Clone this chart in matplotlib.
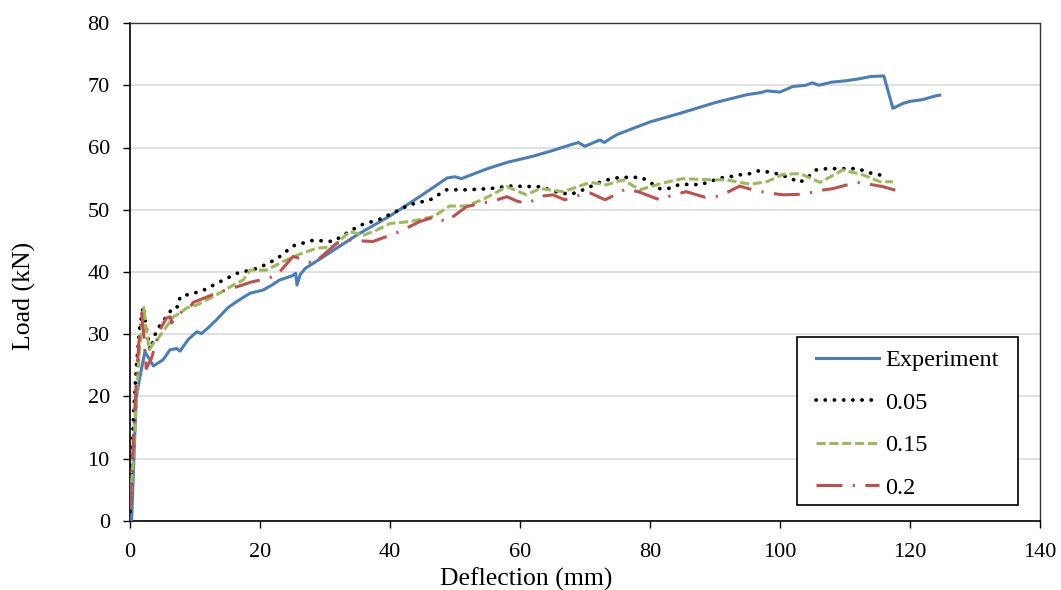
import matplotlib
matplotlib.use("Agg")
import matplotlib.pyplot as plt
from matplotlib.patches import Rectangle

plt.rcParams['font.family'] = ['Liberation Serif', 'DejaVu Serif']

# Load-deflection data (deflection in mm, load in kN)
exp_x = [0, 0.26, 0.77, 1.0, 1.54, 2.3, 3.0, 3.6, 5.1, 6.15, 7.2, 7.7, 9.0, 10.3, 11.0, 12.0,
         13.3, 15.0, 16.5, 18.5, 20.5, 22.0, 23.0, 25.0, 25.5, 25.7, 26.2, 27.0, 30.0, 35.0,
         40.0, 45.0, 48.8, 50.0, 51.0, 55.0, 58.0, 60.0, 62.0, 65.0, 68.0, 69.0, 70.0, 72.3,
         73.0, 74.0, 75.0, 80.0, 85.0, 90.0, 95.0, 97.0, 98.0, 100.0, 102.0, 104.0, 105.0,
         106.0, 108.0, 110.0, 112.0, 114.0, 116.0, 117.4, 119.0, 120.0, 122.0, 124.0, 124.6]
exp_y = [0, 0.2, 14.6, 20.0, 23.2, 27.2, 26.0, 24.9, 25.9, 27.5, 27.7, 27.3, 29.2, 30.4, 30.1, 31.0,
         32.3, 34.2, 35.3, 36.6, 37.1, 38.0, 38.7, 39.4, 39.8, 37.9, 39.6, 40.6, 42.6, 46.0,
         49.0, 52.4, 55.1, 55.3, 55.0, 56.6, 57.6, 58.1, 58.6, 59.5, 60.5, 60.8, 60.2, 61.2,
         60.8, 61.5, 62.1, 64.1, 65.6, 67.2, 68.5, 68.8, 69.1, 68.9, 69.8, 70.0, 70.4,
         70.0, 70.5, 70.7, 71.0, 71.4, 71.5, 66.3, 67.1, 67.4, 67.7, 68.3, 68.4]

d05_x = [0, 0.3, 0.6, 1.0, 1.5, 2.05, 2.5, 3.1, 3.6, 4.1, 4.9, 5.6, 6.7, 7.4, 7.7, 8.7, 9.5,
         10.8, 12.3, 13.8, 16.5, 19.7, 22.6, 25.1, 28.2, 31.3, 32.8, 35.4, 38.5, 41.5, 43.0,
         46.2, 48.7, 51.8, 55.4, 58.5, 63.1, 66.2, 67.9, 69.5, 70.8, 72.3, 73.8, 75.4, 76.9,
         78.7, 80.0, 81.5, 82.8, 84.4, 86.2, 87.7, 89.2, 90.8, 92.3, 93.8, 95.4, 96.9, 98.5,
         100.0, 101.5, 103.1, 104.4, 105.6, 107.2, 108.7, 110.3, 112.0, 113.6, 115.1, 116.7]
d05_y = [1.5, 10.0, 18.0, 25.0, 31.0, 34.5, 31.0, 27.5, 29.0, 30.7, 31.8, 32.8, 34.4, 34.4, 36.0,
         36.3, 36.6, 36.8, 37.6, 38.4, 39.8, 40.6, 42.1, 44.2, 45.1, 44.9, 45.9, 47.5, 48.5,
         50.0, 50.8, 51.6, 53.2, 53.2, 53.4, 53.8, 53.7, 52.7, 52.5, 53.1, 53.7, 54.4, 54.9,
         55.2, 55.2, 55.2, 54.4, 53.4, 53.4, 54.0, 54.1, 54.0, 54.5, 55.1, 55.3, 55.6, 55.8,
         56.3, 56.0, 55.7, 55.1, 54.4, 55.3, 56.4, 56.6, 56.6, 56.6, 56.6, 56.0, 55.6, 55.6]

d15_x = [0, 0.5, 1.0, 1.5, 2.15, 2.6, 3.0, 3.6, 4.1, 5.6, 6.7, 7.7, 8.7, 10.3, 11.8, 13.8,
         15.9, 17.4, 18.5, 21.0, 23.6, 26.2, 28.7, 31.3, 33.8, 35.9, 37.9, 40.0, 43.1, 46.7,
         49.2, 51.8, 54.4, 58.0, 61.0, 63.1, 66.7, 70.8, 73.3, 75.9, 78.5, 82.0, 85.1, 89.7,
         91.8, 95.4, 98.0, 100.5, 103.1, 106.2, 109.7, 112.8, 115.4, 117.4]
d15_y = [2.0, 10.0, 20.0, 28.0, 34.3, 30.0, 27.5, 28.5, 29.0, 31.2, 32.8, 33.4, 34.2, 34.7, 35.5,
         36.6, 37.9, 38.7, 40.3, 40.3, 41.7, 42.9, 43.8, 44.1, 46.5, 45.9, 46.7, 47.8, 48.1,
         48.9, 50.6, 50.6, 51.7, 53.7, 52.4, 53.4, 52.9, 54.4, 54.0, 54.8, 53.2, 54.3, 55.0,
         54.8, 54.8, 54.1, 54.5, 55.7, 55.8, 54.4, 56.4, 55.6, 54.5, 54.5]

d20_x = [0, 0.3, 0.6, 1.0, 1.4, 1.8, 2.2, 2.5, 3.3, 4.6, 5.6, 6.2, 6.4, 8.2, 9.5, 9.7, 13.3,
         16.4, 18.7, 21.0, 22.6, 25.1, 27.2, 28.2, 31.8, 33.8, 37.4, 39.5, 41.5, 44.6, 46.7,
         48.7, 51.8, 53.8, 55.9, 58.0, 59.5, 61.0, 63.6, 65.1, 66.9, 68.7, 70.8, 73.1, 74.1,
         76.2, 78.2, 81.5, 83.6, 85.6, 88.5, 90.8, 93.8, 96.2, 98.2, 100.5, 103.6, 106.2,
         108.2, 111.8, 113.8, 115.9, 117.9]
d20_y = [2.0, 8.0, 15.0, 23.0, 29.0, 33.4, 29.0, 24.5, 26.1, 30.7, 32.6, 32.8, 31.8, 33.9, 34.7,
         35.1, 36.6, 37.6, 38.4, 38.9, 39.5, 42.5, 41.8, 41.3, 44.6, 45.1, 44.9, 45.7, 46.5,
         48.1, 48.8, 48.1, 50.5, 51.0, 51.4, 52.1, 51.4, 51.0, 52.2, 52.4, 51.6, 52.2, 52.7,
         51.6, 52.1, 53.3, 52.9, 51.6, 52.4, 52.9, 52.0, 52.2, 53.8, 53.1, 52.7, 52.4, 52.5,
         53.1, 53.4, 54.4, 54.1, 53.7, 53.1]

x_ticks = [0, 20, 40, 60, 80, 100, 120, 140]
y_ticks = [0, 10, 20, 30, 40, 50, 60, 70, 80]

fig = plt.figure(figsize=(10.61, 5.90), dpi=100)
ax = fig.add_axes([0.1225, 0.117, 0.8575, 0.844])

lw = 2.2
ax.plot(exp_x, exp_y, color='#4A7EBB', lw=lw, solid_joinstyle='round',
        label='Experiment', zorder=3)
ax.plot(d05_x, d05_y, color='black', lw=2.7, linestyle=(0, (0.05, 2.4)),
        dash_capstyle='round', label='0.05', zorder=4)
ax.plot(d15_x, d15_y, color='#9BBB59', lw=lw, linestyle=(0, (3.0, 1.2)),
        label='0.15', zorder=5)
ax.plot(d20_x, d20_y, color='#C0504D', lw=lw, linestyle=(0, (8.5, 3.4, 0.7, 3.4)),
        label='0.2', zorder=6)

ax.set_xlim(0, 140)
ax.set_ylim(0, 80)
ax.set_xticks(x_ticks)
ax.set_yticks(y_ticks)
ax.yaxis.grid(True, color='#D9D9D9', lw=1.1)
ax.set_axisbelow(True)
for side in ('left', 'bottom'):
    ax.spines[side].set_linewidth(1.2)
    ax.spines[side].set_color('black')
for side in ('top', 'right'):
    ax.spines[side].set_linewidth(1.0)
    ax.spines[side].set_color('#333333')
ax.tick_params(direction='out', length=5, width=1.0, labelsize=16)
ax.tick_params(axis='x', pad=11)
ax.tick_params(axis='y', pad=9.5)

ax.set_xlabel('Deflection (mm)', fontsize=18.5)
ax.set_ylabel('Load (kN)', fontsize=18.5)
ax.xaxis.set_label_coords(0.436, -0.094)
ax.yaxis.set_label_coords(-0.1035, 0.452)

# Legend box drawn as its own frame, entries centred inside it
box_x0, box_y0, box_x1, box_y1 = 0.733, 0.032, 0.976, 0.3695
ax.add_patch(Rectangle((box_x0, box_y0), box_x1 - box_x0, box_y1 - box_y0,
                       transform=ax.transAxes, facecolor='white', edgecolor='black',
                       lw=1.2, zorder=7))
leg = ax.legend(loc='center',
                bbox_to_anchor=((box_x0 + box_x1) / 2, (box_y0 + box_y1) / 2 - 0.006),
                fontsize=17.5, frameon=False, handlelength=2.6, handletextpad=0.25,
                labelspacing=0.84, borderpad=0, borderaxespad=0)
leg.set_zorder(8)

fig.savefig('out.png', dpi=100)
